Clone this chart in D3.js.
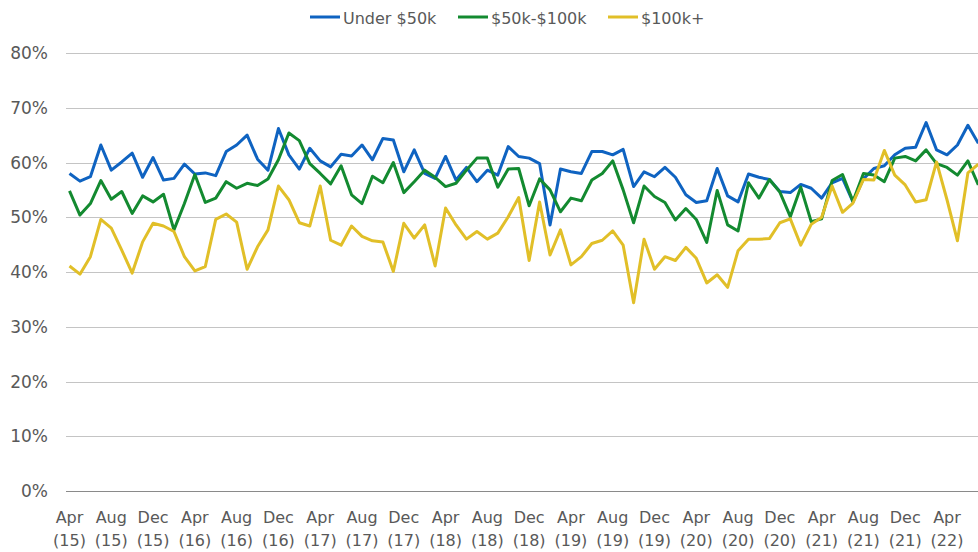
<!DOCTYPE html>
<html>
<head>
<meta charset="utf-8">
<script src="https://cdn.jsdelivr.net/npm/d3@7"></script>
<style>
  html, body { margin: 0; padding: 0; background: #fff; overflow: hidden; }
  svg { display: block; }
  text { font-family: "DejaVu Sans", Verdana, sans-serif; fill: #595959; }
</style>
</head>
<body>
<svg id="chart" width="978" height="552"></svg>
<script>
// Months from Apr 2015 (index 0) to Jul 2022 (index 87)
const monthNames = ["Jan","Feb","Mar","Apr","May","Jun","Jul","Aug","Sep","Oct","Nov","Dec"];
const startMonth = 3, startYear = 15;
const seriesNames = ["Under $50k", "$50k-$100k", "$100k+"];
const yTicks = [0, 10, 20, 30, 40, 50, 60, 70, 80];

const under50k = [58.0,56.6,57.4,63.2,58.6,60.1,61.7,57.3,60.9,56.8,57.1,59.7,57.9,58.1,57.6,62.0,63.2,65.0,60.6,58.6,
  66.2,61.4,58.8,62.6,60.3,59.2,61.5,61.2,63.2,60.5,64.4,64.1,58.3,62.3,58.0,57.1,61.1,56.8,59.1,56.5,
  58.6,57.7,62.9,61.1,60.8,59.8,48.6,58.8,58.3,58.0,62.0,62.0,61.4,62.4,55.6,58.3,57.4,59.1,57.3,54.1,
  52.7,53.0,58.9,53.9,52.8,57.9,57.3,56.9,54.7,54.5,56.0,55.3,53.5,56.3,57.1,52.8,57.0,58.9,59.4,61.4,
  62.6,62.8,67.3,62.3,61.4,63.2,66.8,63.5];
const mid50to100k = [54.8,50.4,52.5,56.7,53.3,54.7,50.7,53.9,52.8,54.2,47.7,52.5,57.8,52.7,53.5,56.5,55.3,56.2,55.8,57.0,
  60.5,65.4,64.0,59.8,58.0,56.1,59.4,54.1,52.5,57.5,56.3,60.0,54.5,56.5,58.6,57.3,55.6,56.2,58.6,60.8,
  60.8,55.5,58.8,58.9,52.1,57.0,55.0,51.0,53.5,53.0,56.8,58.0,60.3,55.0,49.0,55.7,53.8,52.7,49.5,51.6,
  49.6,45.4,54.9,48.6,47.5,56.3,53.5,56.9,54.6,50.1,55.5,49.2,49.7,56.7,57.8,52.9,58.0,57.7,56.5,60.8,
  61.1,60.3,62.3,59.8,59.1,57.7,60.3,55.9];
const over100k = [41.1,39.6,42.8,49.6,48.0,44.0,39.8,45.5,48.9,48.4,47.4,42.8,40.2,41.0,49.6,50.6,49.1,40.5,44.6,47.7,
  55.7,53.2,49.0,48.4,55.7,45.8,44.9,48.4,46.5,45.7,45.5,40.1,48.9,46.2,48.6,41.1,51.7,48.6,46.0,47.4,
  46.0,47.1,50.1,53.6,42.1,52.8,43.1,47.7,41.3,42.8,45.2,45.8,47.5,44.9,34.4,46.0,40.5,42.8,42.1,44.5,
  42.5,38.0,39.5,37.2,43.9,46.0,46.0,46.1,49.0,49.7,44.9,48.7,50.0,55.7,50.9,52.6,56.9,56.8,62.2,57.7,
  55.9,52.8,53.2,60.1,53.2,45.7,58.1,59.7];

const colors = ["#0f63c1", "#138a30", "#e1bf28"];

const svg = d3.select("#chart");
const x = d3.scaleLinear().domain([0, 84]).range([69.5, 947]);
const y = d3.scaleLinear().domain([0, 80]).range([491, 53]);
const plotLeft = 66, plotRight = 978;

// gridlines
svg.append("g").selectAll("line").data(yTicks.filter(t => t > 0)).join("line")
  .attr("x1", plotLeft).attr("x2", plotRight)
  .attr("y1", d => Math.round(y(d)) + 0.5).attr("y2", d => Math.round(y(d)) + 0.5)
  .attr("stroke", "#c4c4c4").attr("stroke-width", 1.2);
// baseline
svg.append("line").attr("x1", plotLeft).attr("x2", plotRight)
  .attr("y1", Math.round(y(0)) + 0.5).attr("y2", Math.round(y(0)) + 0.5)
  .attr("stroke", "#8a8a8a").attr("stroke-width", 1.2);

// y labels
svg.append("g").selectAll("text").data(yTicks).join("text")
  .attr("x", 48).attr("y", d => y(d)).attr("dy", "0.36em")
  .attr("text-anchor", "end").style("font-size", "17px")
  .text(d => d + "%");

// x labels
const tickIdx = d3.range(0, 85, 4);
const xl = svg.append("g").selectAll("text").data(tickIdx).join("text")
  .attr("text-anchor", "middle").style("font-size", "16px");
xl.append("tspan").attr("x", d => x(d)).attr("y", 523)
  .text(d => monthNames[(startMonth + d) % 12]);
xl.append("tspan").attr("x", d => x(d)).attr("y", 546)
  .text(d => "(" + (startYear + Math.floor((startMonth + d) / 12)) + ")");

// lines
const line = d3.line().x((d, i) => x(i)).y(d => y(d));
[under50k, mid50to100k, over100k].forEach((s, k) => {
  svg.append("path").datum(s).attr("d", line)
    .attr("fill", "none").attr("stroke", colors[k]).attr("stroke-width", 3)
    .attr("stroke-linejoin", "round");
});

// legend
const legendX = [310, 458, 608];
const lg = svg.append("g").selectAll("g").data(seriesNames).join("g")
  .attr("transform", (d, i) => `translate(${legendX[i]},0)`);
lg.append("line").attr("x1", 0).attr("x2", 30).attr("y1", 17).attr("y2", 17)
  .attr("stroke", (d, i) => colors[i]).attr("stroke-width", 3);
lg.append("text").attr("x", 33).attr("y", 24).style("font-size", "16px").text(d => d);
</script>
</body>
</html>
